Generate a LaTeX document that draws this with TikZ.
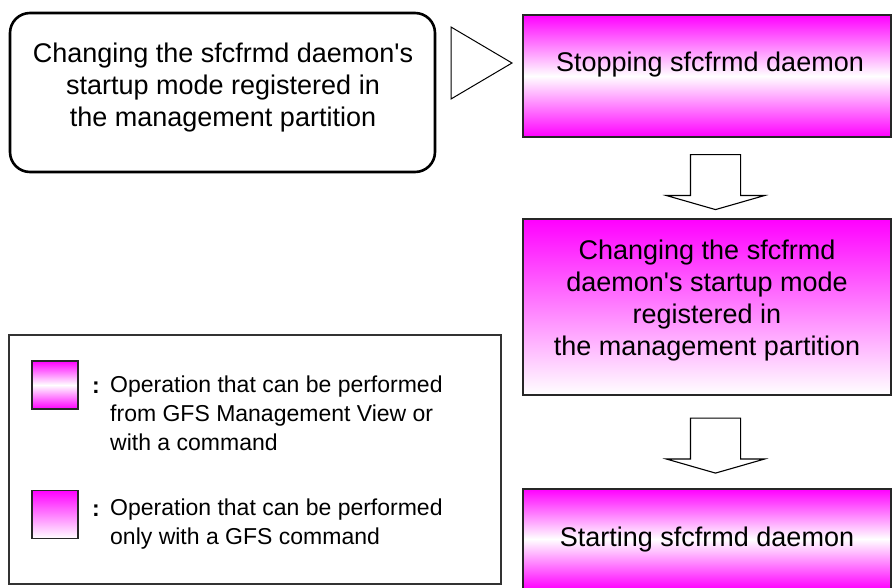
\documentclass[tikz,border=0pt]{standalone}
\usepackage{fontspec}
\setmainfont{Liberation Sans}
\usetikzlibrary{shapes.arrows}

\begin{document}
\begin{tikzpicture}[x=1pt, y=-1pt,
  twoway/.style={top color=magenta, bottom color=magenta, middle color=white},
  onlycmd/.style={top color=magenta, bottom color=white},
  flow/.style={draw=black!85, line width=1.3pt, minimum width=368pt, inner sep=0pt},
  startbox/.style={draw, line width=2.6pt, rounded corners=20pt, minimum width=425pt, minimum height=159pt},
  boxtext/.style={font=\fontsize{27}{32}\selectfont, align=center, inner sep=0pt},
  legtext/.style={font=\fontsize{23}{29}\selectfont, align=left, inner sep=0pt},
  down/.style={single arrow, draw, line width=1.1pt, rotate=-90, minimum height=55pt, minimum width=97pt,
    single arrow head extend=24pt, single arrow tip angle=148, inner xsep=0pt, inner ysep=24.5pt},
  swatch/.style={draw=black!85, line width=1.2pt, minimum width=46pt, minimum height=48pt, inner sep=0pt}
]
\useasboundingbox (0,0) rectangle (892,587);

% starting point
\node[startbox] (change) at (222.5,92.5) {};
\node[boxtext] (changetext) at (223,88) {Changing the sfcfrmd daemon\textquotesingle s\\startup mode registered in\\the management partition};
\draw[line width=1pt] (451,27) -- (512,63) -- (451,99) -- cycle;

% procedure
\node[flow, twoway, minimum height=122pt] (stop) at (707,76) {};
\node[boxtext] (stoptext) at (710,65) {Stopping sfcfrmd daemon};
\node[down] (next1) at (715.5,178.5) {};
\node[flow, onlycmd, minimum height=176pt] (mode) at (707,307) {};
\node[boxtext] (modetext) at (707,301) {Changing the sfcfrmd\\daemon\textquotesingle s startup mode\\registered in\\the management partition};
\node[down] (next2) at (715.5,442) {};
\node[flow, twoway, minimum height=100pt] (begin) at (707,539) {};
\node[boxtext] (begintext) at (707,540) {Starting sfcfrmd daemon};

% legend
\node[draw=black!80, line width=1.2pt, minimum width=492pt, minimum height=249pt] (legend) at (255,459.5) {};
\node[swatch, twoway] (key1) at (55,385) {};
\node[legtext, anchor=base] (colon1) at (96,393) {\textbf{:}};
\node[legtext, anchor=north west] (keytext1) at (110,376) {Operation that can be performed\\from GFS Management View or\\with a command};
\node[swatch, onlycmd] (key2) at (55,514.5) {};
\node[legtext, anchor=base] (colon2) at (96,516) {\textbf{:}};
\node[legtext, anchor=north west] (keytext2) at (110,499) {Operation that can be performed\\only with a GFS command};
\end{tikzpicture}
\end{document}
